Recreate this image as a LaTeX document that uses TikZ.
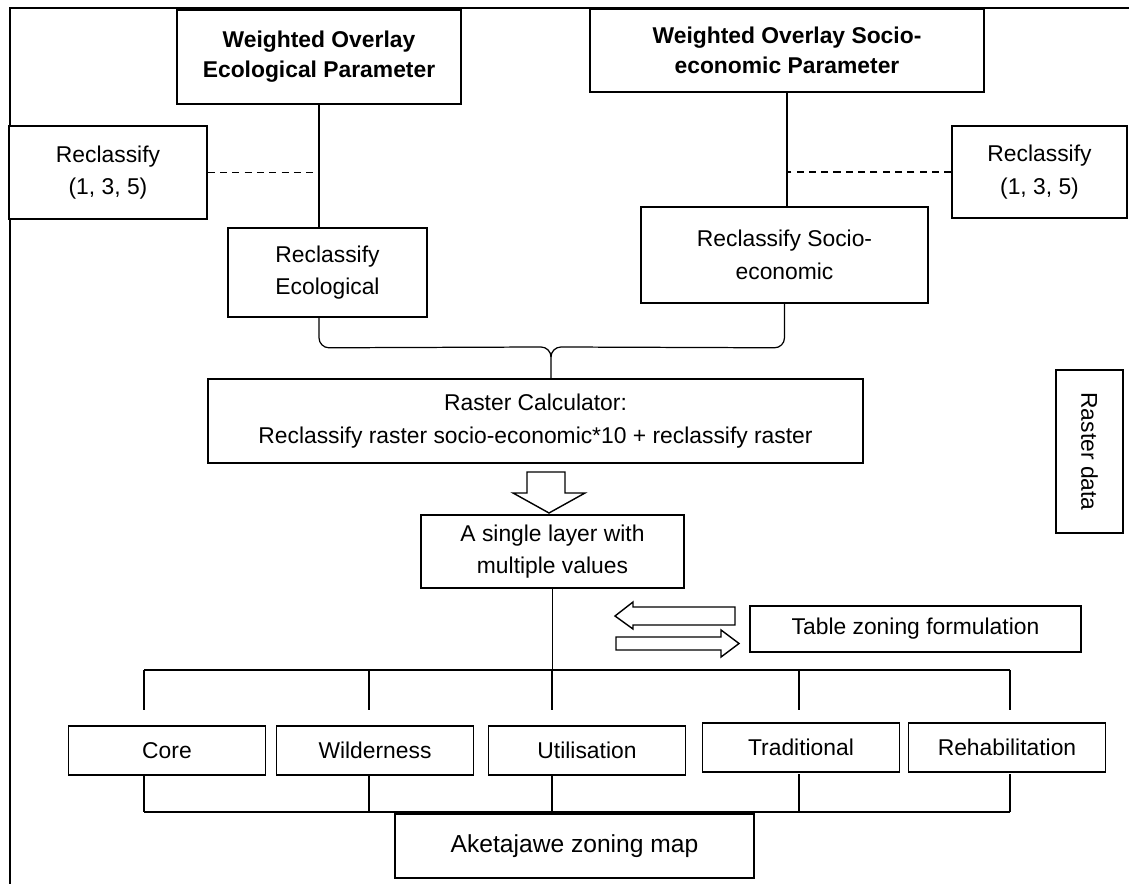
\documentclass[tikz,border=0pt]{standalone}
\usepackage{fontspec}
\setmainfont{Liberation Sans}
\usetikzlibrary{calc}
\begin{document}
\begin{tikzpicture}[
  box/.style={draw, line width=0.9pt, align=center, inner sep=0pt,
    font=\fontsize{13}{18.5}\selectfont},
  title/.style={box, font=\bfseries\fontsize{13}{17}\selectfont},
  zone/.style={box, minimum width=3.94cm, minimum height=0.98cm},
  link/.style={line width=0.7pt},
  hollow/.style={draw, line width=0.8pt, line join=miter}
]
\useasboundingbox (0,0) rectangle (22.58,-17.68);
% frame
\draw[line width=0.9pt] (22.58,-0.16) -- (0.2,-0.16) -- (0.2,-17.68);

% top part
\node[title, minimum width=5.68cm, minimum height=1.88cm] (woe) at (6.38,-1.14) {Weighted Overlay\\Ecological Parameter};
\node[title, minimum width=7.88cm, minimum height=1.66cm] (wos) at (15.74,-1.01) {Weighted Overlay Socio-\\economic Parameter};
\node[box, fill=white, minimum width=3.96cm, minimum height=1.86cm] (recl) at (2.16,-3.45) {Reclassify\\(1, 3, 5)};
\node[box, minimum width=3.5cm, minimum height=1.84cm] (recr) at (20.79,-3.44) {Reclassify\\(1, 3, 5)};
\node[box, minimum width=3.98cm, minimum height=1.78cm] (reco) at (6.55,-5.45) {Reclassify\\Ecological};
\node[box, minimum width=5.74cm, minimum height=1.92cm] (reso) at (15.69,-5.10) {Reclassify Socio-\\economic};

\draw[line width=1.6pt] (woe.south) -- (woe.south |- reco.north);
\draw[link] (wos.south) -- (wos.south |- reso.north);
\draw[line width=1pt, dash pattern=on 4pt off 3pt] (recl.east) -- (recl.east -| woe.south);
\draw[line width=1pt, dash pattern=on 4pt off 3pt] (recr.west) -- (recr.west -| wos.south);

% brace
\node[box, minimum width=13.1cm, minimum height=1.68cm] (rcalc) at (10.71,-8.42) {Raster Calculator:\\Reclassify raster socio-economic*10 + reclassify raster};
\coordinate (bmid) at (11.02,-6.94);
\draw[link] (woe.south |- reco.south) -- ++(0,-0.4) to[out=-90,in=180] ++(0.2,-0.2)
  -- ($(bmid)+(-0.2,0)$) to[out=0,in=90] ++(0.2,-0.2) -- (bmid |- rcalc.north);
\draw[link] (reso.south) -- ++(0,-0.68) to[out=-90,in=0] ++(-0.2,-0.2)
  -- ($(bmid)+(0.2,0)$) to[out=180,in=90] ++(-0.2,-0.2);

% hollow arrow down
\draw[hollow] (10.54,-9.44) -- (11.30,-9.44) -- (11.30,-9.86) -- (11.70,-9.86) -- (10.98,-10.26)
  -- (10.26,-9.86) -- (10.54,-9.86) -- cycle;

\node[box, minimum width=5.26cm, minimum height=1.46cm] (single) at (11.05,-11.03) {A single layer with\\multiple values};
\node[box, minimum width=6.62cm, minimum height=0.92cm] (table) at (18.31,-12.58) {Table zoning formulation};
\node[box, rotate=-90, minimum width=3.26cm, minimum height=1.34cm] (rdata) at (21.79,-9.03) {Raster data};

% arrows to and from the table
\draw[hollow] (14.70,-12.14) -- (12.66,-12.14) -- (12.66,-12.04) -- (12.30,-12.32) -- (12.66,-12.58)
  -- (12.66,-12.50) -- (14.70,-12.50) -- cycle;
\draw[hollow] (12.32,-12.74) -- (14.42,-12.74) -- (14.42,-12.60) -- (14.78,-12.87) -- (14.42,-13.14)
  -- (14.42,-13.00) -- (12.32,-13.00) -- cycle;

% zones
\node[zone] (core) at (3.34,-15.01) {Core};
\node[zone] (wild) at (7.50,-15.01) {Wilderness};
\node[zone] (util) at (11.74,-15.01) {Utilisation};
\node[zone] (trad) at (16.02,-14.95) {Traditional};
\node[zone] (rehab) at (20.14,-14.95) {Rehabilitation};

\coordinate (topbus) at (11.04,-13.40);
\draw[link] (single.south) -- (single.south |- topbus);
\draw[link] (2.88,-13.40) -- (20.20,-13.40);
\foreach \x in {2.88, 7.38, 11.04, 15.98, 20.20} {
  \draw[link] (\x,-13.40) -- (\x,-14.20);
  \draw[link] (\x,-15.48) -- (\x,-16.24);
}
\draw[line width=1.6pt] (2.88,-16.24) -- (20.20,-16.24);

\node[box, font=\fontsize{14}{17}\selectfont, minimum width=7.18cm, minimum height=1.28cm] (map) at (11.49,-16.92) {Aketajawe zoning map};
\end{tikzpicture}
\end{document}
